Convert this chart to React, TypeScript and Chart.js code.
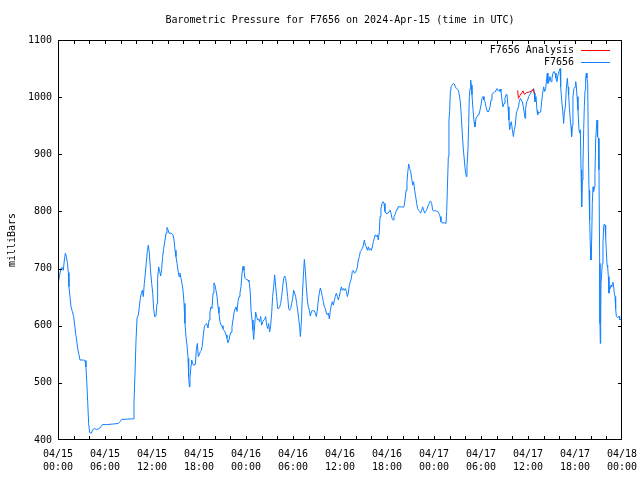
import React, { useEffect, useRef } from "react";
import { Chart, registerables } from "chart.js";

Chart.register(...registerables);

const TITLE = "Barometric Pressure for F7656 on 2024-Apr-15 (time in UTC)";
const Y_LABEL = "milliBars";
const SERIES_NAMES = ["F7656 Analysis", "F7656"];
const SERIES_COLORS = ["#ff0000", "#1080ff"];

// x tick labels every 6 hours (hours since 2024-04-15 00:00 UTC)
const tickDates = ["04/15", "04/15", "04/15", "04/15", "04/16", "04/16", "04/16", "04/16", "04/17", "04/17", "04/17", "04/17", "04/18"];
const tickTimes = ["00:00", "06:00", "12:00", "18:00", "00:00", "06:00", "12:00", "18:00", "00:00", "06:00", "12:00", "18:00", "00:00"];
const xMinorTickHours = [0, 2, 4, 6, 8, 10, 12, 14, 16, 18, 20, 22, 24, 26, 28, 30, 32, 34, 36, 38, 40, 42, 44, 46, 48, 50, 52, 54, 56, 58, 60, 62, 64, 66, 68, 70, 72];
const yTickValues = [400, 500, 600, 700, 800, 900, 1000, 1100];

// F7656 observations: hours since start, pressure (mbar)
const hours = [
  0.0, 0.17, 0.38, 0.55, 0.68, 0.81, 0.94, 1.06, 1.19, 1.32, 1.40, 1.53, 1.66, 1.83, 2.00, 2.13, 2.26, 2.38, 2.51, 2.68,
  2.81, 3.23, 3.45, 3.57, 3.66, 3.79, 3.91, 4.04, 4.26, 4.43, 4.64, 4.94, 5.23, 5.49, 5.66, 6.21, 7.06, 7.70, 7.91, 8.13,
  9.62, 9.70, 9.83, 9.96, 10.09, 10.26, 10.38, 10.51, 10.64, 10.77, 10.89, 11.02, 11.15, 11.28, 11.40, 11.53, 11.66, 11.79, 11.96, 12.09,
  12.21, 12.34, 12.51, 12.64, 12.72, 12.85, 12.98, 13.11, 13.23, 13.36, 13.49, 13.66, 13.79, 13.91, 14.04, 14.17, 14.43, 14.68, 14.81, 14.94,
  15.06, 15.19, 15.32, 15.45, 15.57, 15.70, 15.83, 15.96, 16.09, 16.21, 16.34, 16.47, 16.60, 16.68, 16.77, 16.85, 16.98, 17.06, 17.19, 17.32,
  17.53, 17.66, 17.79, 17.91, 18.04, 18.17, 18.30, 18.43, 18.55, 18.68, 18.81, 18.98, 19.15, 19.28, 19.40, 19.53, 19.66, 19.79, 19.91, 20.04,
  20.17, 20.30, 20.43, 20.55, 20.68, 20.81, 20.94, 21.06, 21.19, 21.32, 21.45, 21.57, 21.70, 21.83, 21.96, 22.09, 22.21, 22.34, 22.47, 22.60,
  22.72, 22.85, 22.98, 23.11, 23.23, 23.36, 23.49, 23.62, 23.74, 23.87, 24.00, 24.26, 24.38, 24.43, 24.55, 24.64, 24.77, 24.89, 24.98, 25.11,
  25.23, 25.36, 25.49, 25.62, 25.74, 25.87, 26.00, 26.13, 26.26, 26.38, 26.51, 26.64, 26.77, 26.89, 27.02, 27.15, 27.28, 27.40, 27.53, 27.66,
  27.79, 27.91, 28.04, 28.17, 28.30, 28.43, 28.55, 28.68, 28.81, 28.94, 29.06, 29.19, 29.32, 29.45, 29.57, 29.70, 29.83, 29.96, 30.09, 30.21,
  30.34, 30.47, 30.60, 30.72, 30.85, 30.94, 31.06, 31.19, 31.32, 31.45, 31.57, 31.70, 31.83, 31.96, 32.09, 32.21, 32.34, 32.47, 32.60, 32.72,
  32.85, 32.98, 33.11, 33.23, 33.36, 33.49, 33.62, 33.74, 33.87, 34.00, 34.13, 34.26, 34.38, 34.51, 34.64, 34.77, 34.89, 35.02, 35.15, 35.28,
  35.40, 35.53, 35.66, 35.79, 35.91, 36.04, 36.17, 36.30, 36.43, 36.55, 36.68, 36.81, 36.94, 37.06, 37.19, 37.32, 37.45, 37.57, 37.70, 37.83,
  37.96, 38.09, 38.21, 38.34, 38.47, 38.60, 38.72, 38.85, 38.98, 39.11, 39.23, 39.36, 39.49, 39.62, 39.74, 39.87, 40.00, 40.13, 40.26, 40.38,
  40.51, 40.64, 40.77, 40.89, 41.02, 41.11, 41.23, 41.36, 41.49, 41.62, 41.74, 41.87, 42.00, 42.13, 42.26, 42.38, 42.51, 42.64, 42.77, 42.89,
  43.02, 43.15, 43.28, 43.40, 43.66, 43.91, 44.04, 44.17, 44.30, 44.43, 44.55, 44.64, 44.77, 44.89, 45.02, 45.15, 45.28, 45.40, 45.53, 45.66,
  45.79, 45.91, 46.04, 46.17, 46.30, 46.43, 46.55, 46.68, 46.81, 46.94, 47.06, 47.19, 47.32, 47.45, 47.57, 47.70, 47.83, 47.96, 48.21, 48.47,
  48.60, 48.72, 48.77, 48.89, 49.02, 49.40, 49.53, 49.62, 49.70, 49.83, 49.91, 50.00, 50.09, 50.17, 50.30, 50.47, 50.60, 50.72, 50.85, 50.98,
  51.11, 51.23, 51.36, 51.49, 51.62, 51.74, 51.87, 52.00, 52.13, 52.21, 52.34, 52.43, 52.51, 52.60, 52.68, 52.77, 52.85, 52.98, 53.11, 53.23,
  53.36, 53.49, 53.62, 53.74, 53.87, 54.00, 54.13, 54.26, 54.38, 54.51, 54.64, 54.77, 54.89, 55.02, 55.15, 55.28, 55.40, 55.53, 55.66, 55.79,
  55.91, 56.04, 56.17, 56.30, 56.43, 56.55, 56.68, 56.81, 56.94, 57.06, 57.19, 57.32, 57.45, 57.57, 57.66, 57.74, 57.87, 58.00, 58.13, 58.26,
  58.38, 58.51, 58.64, 58.77, 58.89, 59.02, 59.15, 59.28, 59.40, 59.53, 59.62, 59.70, 59.83, 59.96, 60.09, 60.21, 60.34, 60.47, 60.60, 60.72,
  60.81, 60.89, 61.02, 61.15, 61.23, 61.36, 61.49, 61.62, 61.74, 61.87, 62.00, 62.13, 62.26, 62.38, 62.47, 62.55, 62.68, 62.81, 62.94, 63.06,
  63.19, 63.32, 63.45, 63.57, 63.70, 63.83, 63.96, 64.09, 64.17, 64.30, 64.43, 64.55, 64.64, 64.77, 64.89, 65.02, 65.11, 65.19, 65.28, 65.40,
  65.49, 65.57, 65.66, 65.74, 65.87, 66.00, 66.09, 66.17, 66.26, 66.38, 66.51, 66.60, 66.68, 66.77, 66.85, 66.94, 67.02, 67.11, 67.19, 67.28,
  67.36, 67.45, 67.53, 67.62, 67.70, 67.79, 67.87, 67.96, 68.04, 68.13, 68.21, 68.30, 68.38, 68.47, 68.55, 68.64, 68.72, 68.81, 68.89, 68.98,
  69.06, 69.15, 69.19, 69.23, 69.28, 69.32, 69.40, 69.49, 69.57, 69.66, 69.74, 69.83, 69.91, 70.00, 70.09, 70.17, 70.26, 70.34, 70.43, 70.51,
  70.60, 70.68, 70.77, 70.85, 70.94, 71.02, 71.11, 71.19, 71.28, 71.45, 71.62, 71.70, 71.90,
];
const pressure = [
  671, 686, 700, 702, 697, 715, 727, 721, 711, 693, 668, 651, 633, 625, 616, 601, 585, 575, 560, 549,
  540, 540, 539, 528, 505, 467, 429, 413, 412, 418, 420, 418, 420, 423, 427, 427, 428, 429, 432, 436,
  437, 464, 517, 575, 613, 619, 633, 648, 657, 662, 651, 674, 692, 712, 730, 741, 727, 700, 674, 657,
  630, 616, 617, 639, 683, 703, 695, 687, 699, 721, 735, 750, 762, 772, 768, 762, 762, 759, 750, 732,
  721, 709, 697, 686, 692, 683, 674, 662, 639, 604, 581, 566, 543, 511, 493, 508, 531, 540, 534, 531,
  532, 557, 569, 546, 549, 555, 557, 566, 584, 598, 602, 604, 596, 610, 624, 633, 630, 657, 675, 671,
  662, 651, 633, 622, 607, 601, 600, 595, 592, 589, 584, 578, 570, 575, 584, 589, 598, 610, 622, 630,
  633, 625, 642, 651, 657, 668, 692, 704, 697, 683, 681, 680, 677, 674, 657, 627, 610, 592, 576, 601,
  624, 616, 610, 611, 607, 616, 601, 607, 610, 611, 616, 601, 595, 604, 589, 601, 622, 651, 668, 689,
  668, 651, 630, 630, 633, 639, 651, 668, 683, 687, 683, 668, 651, 630, 627, 630, 639, 648, 662, 657,
  651, 639, 627, 613, 598, 581, 604, 651, 686, 716, 697, 668, 645, 633, 627, 617, 624, 627, 626, 626,
  622, 616, 627, 645, 657, 666, 660, 651, 642, 633, 630, 622, 619, 622, 612, 627, 636, 642, 636, 645,
  651, 657, 651, 645, 651, 660, 668, 662, 665, 662, 665, 660, 651, 657, 671, 677, 683, 695, 697, 692,
  693, 697, 702, 715, 721, 730, 732, 735, 741, 750, 741, 738, 732, 738, 732, 735, 732, 738, 747, 753,
  759, 756, 759, 750, 765, 791, 805, 814, 817, 814, 800, 797, 796, 797, 800, 802, 797, 788, 785, 791,
  794, 800, 804, 808, 808, 808, 807, 808, 820, 837, 852, 867, 883, 875, 870, 858, 846, 852, 837, 826,
  814, 805, 802, 800, 797, 802, 808, 802, 797, 800, 803, 808, 812, 817, 818, 814, 802, 801, 801, 800,
  797, 794, 791, 782, 780, 780, 779, 800, 837, 896, 960, 975, 1012, 1018, 1021, 1024, 1023, 1018, 1015, 1014,
  1012, 1004, 992, 966, 934, 910, 890, 871, 861, 878, 910, 954, 1001, 1015, 1030, 1021, 1004, 978, 957, 948,
  963, 966, 969, 970, 977, 986, 998, 1001, 995, 992, 983, 976, 974, 977, 983, 995, 1004, 1007, 1008, 1010,
  1012, 1015, 1012, 1010, 1014, 1010, 995, 983, 989, 998, 1004, 1005, 983, 960, 943, 951, 957, 943, 931, 943,
  951, 972, 977, 982, 992, 998, 995, 992, 983, 972, 963, 980, 992, 995, 1001, 1004, 1007, 1010, 1012, 1015,
  1007, 992, 1001, 977, 969, 974, 973, 974, 992, 1007, 1018, 1010, 1015, 1033, 1042, 1024, 1027, 1036, 1027, 1033,
  1042, 1045, 1042, 1033, 1027, 1039, 1045, 1050, 1018, 995, 977, 954, 972, 983, 1015, 1033, 1018, 1004, 983, 960,
  948, 931, 951, 1001, 1015, 1018, 1027, 1018, 1001, 977, 943, 937, 943, 873, 808, 855, 884, 943, 983, 1012,
  1033, 1042, 1033, 1024, 913, 837, 785, 738, 715, 750, 814, 843, 835, 843, 867, 925, 943, 960, 931, 928,
  873, 709, 604, 569, 604, 674, 674, 709, 744, 773, 778, 776, 756, 732, 706, 703, 686, 657, 668, 665,
  671, 668, 674, 676, 668, 657, 651, 630, 616, 614, 617, 611, 611,
];

// F7656 Analysis
const analysisHours = [58.68, 58.77, 58.98, 59.23, 59.36, 59.53, 59.83, 60.17, 60.47, 60.68, 60.81];
const analysisPressure = [1012, 998, 1003, 1008, 1011, 1005, 1008, 1009, 1011, 1014, 1006];

const FONT_FAMILY = "'DejaVu Sans Mono', monospace";

const framePlugin = {
  id: "gnuplotFrame",
  afterDraw(chart: any) {
    const ctx = chart.ctx;
    const area = chart.chartArea;
    const xs = chart.scales.x;
    const ys = chart.scales.y;
    const L = Math.round(area.left);
    const R = Math.round(area.right) - 1;
    const T = Math.round(area.top);
    const B = Math.round(area.bottom) - 1;
    const tl = 4;
    ctx.save();
    ctx.fillStyle = "#000000";
    // frame
    ctx.fillRect(L, T, R - L + 1, 1);
    ctx.fillRect(L, B, R - L + 1, 1);
    ctx.fillRect(L, T, 1, B - T + 1);
    ctx.fillRect(R, T, 1, B - T + 1);
    // x ticks (inward, bottom and top)
    xMinorTickHours.forEach((h) => {
      const px = Math.min(R, Math.max(L, Math.round(xs.getPixelForValue(h))));
      ctx.fillRect(px, B - tl + 1, 1, tl);
      ctx.fillRect(px, T, 1, tl);
    });
    // y ticks (inward, left and right)
    yTickValues.forEach((v) => {
      const py = Math.min(B, Math.max(T, Math.round(ys.getPixelForValue(v))));
      ctx.fillRect(L, py, tl, 1);
      ctx.fillRect(R - tl + 1, py, tl, 1);
    });

    // title
    ctx.font = `10px ${FONT_FAMILY}`;
    ctx.textAlign = "center";
    ctx.textBaseline = "middle";
    ctx.fillText(TITLE, (area.left + area.right) / 2, 20);

    // legend
    ctx.textAlign = "right";
    SERIES_NAMES.forEach((name, i) => {
      const y = 50 + i * 12;
      ctx.fillStyle = "#000";
      ctx.fillText(name, 574, y);
      ctx.fillStyle = SERIES_COLORS[i];
      ctx.fillRect(581, y, 29, 1);
    });
    ctx.restore();
  },
};

export default function App() {
  const ref = useRef<HTMLCanvasElement | null>(null);

  useEffect(() => {
    if (!ref.current) return;
    const chart = new Chart(ref.current, {
      type: "line",
      data: {
        datasets: [
          {
            label: SERIES_NAMES[0],
            data: analysisHours.map((h, i) => ({ x: h, y: analysisPressure[i] })),
            borderColor: SERIES_COLORS[0],
            borderWidth: 1,
            pointRadius: 0,
            pointHoverRadius: 0,
            tension: 0,
            fill: false,
          },
          {
            label: SERIES_NAMES[1],
            data: hours.map((h, i) => ({ x: h, y: pressure[i] })),
            borderColor: SERIES_COLORS[1],
            borderWidth: 1,
            pointRadius: 0,
            pointHoverRadius: 0,
            tension: 0,
            fill: false,
          },
        ],
      },
      options: {
        responsive: false,
        animation: false,
        events: [],
        layout: { autoPadding: false, padding: { top: 40, right: 18, left: 0, bottom: 0 } },
        plugins: {
          legend: { display: false },
          title: { display: false },
          tooltip: { enabled: false },
        },
        scales: {
          x: {
            type: "linear",
            min: 0,
            max: 72,
            grid: { display: false, drawTicks: false },
            border: { display: false },
            afterFit: (s: any) => {
              s.height = 40;
              s.paddingLeft = 0;
              s.paddingRight = 0;
            },
            ticks: {
              stepSize: 2,
              autoSkip: false,
              maxRotation: 0,
              minRotation: 0,
              padding: 8,
              color: "#000",
              font: { family: FONT_FAMILY, size: 10, lineHeight: 1.3 },
              callback: (v: any) => {
                const n = Number(v);
                if (n % 6 !== 0) return "";
                const k = n / 6;
                return [tickDates[k], tickTimes[k]];
              },
            },
          },
          y: {
            type: "linear",
            min: 400,
            max: 1100,
            grid: { display: false, drawTicks: false },
            border: { display: false },
            afterFit: (s: any) => {
              s.width = 58;
              s.paddingTop = 0;
              s.paddingBottom = 0;
            },
            ticks: {
              stepSize: 100,
              padding: 6,
              color: "#000",
              font: { family: FONT_FAMILY, size: 10 },
              callback: (v: any) => String(v),
            },
            title: {
              display: true,
              text: Y_LABEL,
              color: "#000",
              padding: { top: 6, bottom: 0 },
              font: { family: FONT_FAMILY, size: 10, lineHeight: 1.2 },
            },
          },
        },
      },
      plugins: [framePlugin],
    });
    return () => chart.destroy();
  }, []);

  return (
    <div style={{ position: "absolute", left: 0, top: 0, width: 640, height: 480, background: "#fff" }}>
      <canvas ref={ref} width={640} height={480} style={{ display: "block", width: 640, height: 480 }} />
    </div>
  );
}
